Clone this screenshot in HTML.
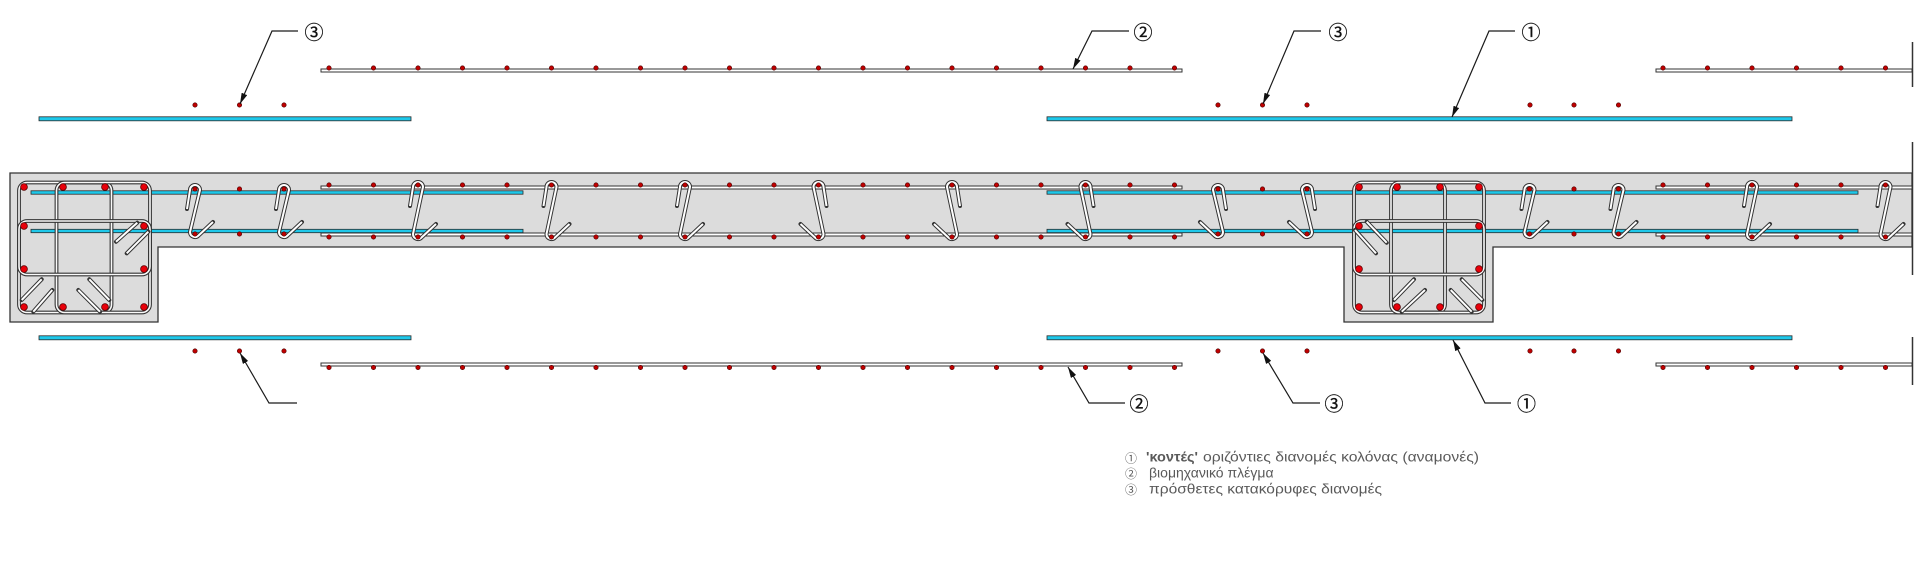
<!DOCTYPE html>
<html><head><meta charset="utf-8">
<style>
html,body{margin:0;padding:0;background:#fff;}
svg{display:block}
.o{fill:none;stroke:#333;stroke-width:4;stroke-linecap:round;stroke-linejoin:round}
.i{fill:none;stroke:#fff;stroke-width:2;stroke-linejoin:round}
.so{fill:none;stroke:#333;stroke-width:3.8}
.si{fill:none;stroke:#fafafa;stroke-width:1.6}
.cy{fill:#1ec8ea;stroke:#2a2a2a;stroke-width:0.8}
.ms{fill:#fff;stroke:#333;stroke-width:1}
.dt circle{fill:#c00000;stroke:#4a0000;stroke-width:0.6}
.cd circle{fill:#e8000a;stroke:#5a0000;stroke-width:0.8}
.ld{fill:none;stroke:#1a1a1a;stroke-width:1.2}
.lb{font-family:"Liberation Sans","Noto Sans CJK JP",sans-serif;font-size:19px;fill:#111;stroke:#111;stroke-width:0.3}
.lg{font-family:"Liberation Sans","Noto Sans CJK JP",sans-serif;font-size:14px;fill:#5a5a5a}
.lgc{font-family:"Liberation Sans","Noto Sans CJK JP",sans-serif;font-size:12px;fill:#5a5a5a}
</style></head>
<body>
<svg width="1920" height="579" viewBox="0 0 1920 579" xmlns="http://www.w3.org/2000/svg">
<defs>
<marker id="ar" markerWidth="12" markerHeight="6" refX="11" refY="3" orient="auto" markerUnits="userSpaceOnUse"><path d="M0,0 L11,3 L0,6 z" fill="#111"/></marker>
<g id="hm"><path class="o" d="M -8,206 L -5,187 A 5 5 0 0 1 5,187 L -5,234 A 5 5 0 0 0 3.54,237.54 L 18,224"/><path class="i" d="M -8,206 L -5,187 A 5 5 0 0 1 5,187 L -5,234 A 5 5 0 0 0 3.54,237.54 L 18,224"/></g>
<g id="hc"><path class="o" d="M -8,209 L -5,190 A 5 5 0 0 1 5,190 L -5,232 A 5 5 0 0 0 3.54,235.54 L 18,222"/><path class="i" d="M -8,209 L -5,190 A 5 5 0 0 1 5,190 L -5,232 A 5 5 0 0 0 3.54,235.54 L 18,222"/></g>
</defs>

<!-- slab -->
<polygon points="10,173 1912,173 1912,247 1493,247 1493,322 1344,322 1344,247 158,247 158,322 10,322" fill="#dcdcdc" stroke="#333" stroke-width="1.3"/>

<!-- outside bars -->
<rect class="ms" x="321" y="69" width="861" height="3"/>
<rect class="ms" x="1656" y="69" width="256" height="3"/>
<rect class="cy" x="39" y="116.8" width="372" height="4"/>
<rect class="cy" x="1047" y="116.8" width="745" height="4"/>
<rect class="cy" x="39" y="335.8" width="372" height="4"/>
<rect class="cy" x="1047" y="335.8" width="745" height="4"/>
<rect class="ms" x="321" y="363" width="861" height="3"/>
<rect class="ms" x="1656" y="363" width="256" height="3"/>

<!-- inside bars -->
<rect class="ms" x="321" y="186" width="861" height="3"/>
<rect class="ms" x="321" y="233" width="861" height="3"/>
<rect class="ms" x="1656" y="186" width="256" height="3"/>
<rect class="ms" x="1656" y="233" width="256" height="3"/>
<rect class="cy" x="31" y="190.8" width="492" height="3.4"/>
<rect class="cy" x="31" y="229.3" width="492" height="3.4"/>
<rect class="cy" x="1047" y="190.8" width="811" height="3.4"/>
<rect class="cy" x="1047" y="229.3" width="811" height="3.4"/>

<!-- column stirrups left -->
<g>
<rect class="so" x="19" y="182.5" width="92.5" height="130" rx="8"/><rect class="si" x="19" y="182.5" width="92.5" height="130" rx="8"/>
<rect class="so" x="56.5" y="182.5" width="93.5" height="130" rx="8"/><rect class="si" x="56.5" y="182.5" width="93.5" height="130" rx="8"/>
<rect class="so" x="19" y="221" width="131" height="53.5" rx="8"/><rect class="si" x="19" y="221" width="131" height="53.5" rx="8"/>
</g>
<!-- column stirrups right -->
<g>
<rect class="so" x="1354" y="182.5" width="91" height="130" rx="8"/><rect class="si" x="1354" y="182.5" width="91" height="130" rx="8"/>
<rect class="so" x="1391" y="182.5" width="93" height="130" rx="8"/><rect class="si" x="1391" y="182.5" width="93" height="130" rx="8"/>
<rect class="so" x="1354" y="221" width="130" height="53.5" rx="8"/><rect class="si" x="1354" y="221" width="130" height="53.5" rx="8"/>
</g>

<!-- column hook legs -->
<g>
<path class="o" d="M116,241.7 L137.3,222.7 M126.7,253.3 L148.3,231.7 M21.7,300 L41.7,279.3 M33.3,311.7 L52.3,290 M78.3,290 L100,311.7 M89.3,279.3 L109.3,300 M1366.7,221.7 L1386.7,242.7 M1355,230 L1376,253.3 M1394,300 L1414,279.3 M1401.7,311.7 L1425,290 M1450.7,290 L1471.7,311.7 M1461.7,279.3 L1482.3,300"/>
<path class="i" d="M116,241.7 L137.3,222.7 M126.7,253.3 L148.3,231.7 M21.7,300 L41.7,279.3 M33.3,311.7 L52.3,290 M78.3,290 L100,311.7 M89.3,279.3 L109.3,300 M1366.7,221.7 L1386.7,242.7 M1355,230 L1376,253.3 M1394,300 L1414,279.3 M1401.7,311.7 L1425,290 M1450.7,290 L1471.7,311.7 M1461.7,279.3 L1482.3,300"/>
</g>

<!-- slab ties -->
<use href="#hc" transform="translate(195,0)"/>
<use href="#hc" transform="translate(284,0)"/>
<use href="#hm" transform="translate(418,0)"/>
<use href="#hm" transform="translate(551.5,0)"/>
<use href="#hm" transform="translate(685,0)"/>
<use href="#hm" transform="translate(818.5,0) scale(-1,1)"/>
<use href="#hm" transform="translate(952,0) scale(-1,1)"/>
<use href="#hm" transform="translate(1085.5,0) scale(-1,1)"/>
<use href="#hc" transform="translate(1218,0) scale(-1,1)"/>
<use href="#hc" transform="translate(1307,0) scale(-1,1)"/>
<use href="#hc" transform="translate(1529.5,0)"/>
<use href="#hc" transform="translate(1618.5,0)"/>
<use href="#hm" transform="translate(1752,0)"/>
<use href="#hm" transform="translate(1885.5,0)"/>

<!-- small dots -->
<g class="dt">
<circle cx="329" cy="68" r="2.2"/><circle cx="373.5" cy="68" r="2.2"/><circle cx="418" cy="68" r="2.2"/><circle cx="462.5" cy="68" r="2.2"/><circle cx="507" cy="68" r="2.2"/><circle cx="551.5" cy="68" r="2.2"/><circle cx="596" cy="68" r="2.2"/><circle cx="640.5" cy="68" r="2.2"/><circle cx="685" cy="68" r="2.2"/><circle cx="729.5" cy="68" r="2.2"/><circle cx="774" cy="68" r="2.2"/><circle cx="818.5" cy="68" r="2.2"/><circle cx="863" cy="68" r="2.2"/><circle cx="907.5" cy="68" r="2.2"/><circle cx="952" cy="68" r="2.2"/><circle cx="996.5" cy="68" r="2.2"/><circle cx="1041" cy="68" r="2.2"/><circle cx="1085.5" cy="68" r="2.2"/><circle cx="1130" cy="68" r="2.2"/><circle cx="1174.5" cy="68" r="2.2"/>
<circle cx="1663" cy="68" r="2.2"/><circle cx="1707.5" cy="68" r="2.2"/><circle cx="1752" cy="68" r="2.2"/><circle cx="1796.5" cy="68" r="2.2"/><circle cx="1841" cy="68" r="2.2"/><circle cx="1885.5" cy="68" r="2.2"/>
<circle cx="329" cy="367.5" r="2.2"/><circle cx="373.5" cy="367.5" r="2.2"/><circle cx="418" cy="367.5" r="2.2"/><circle cx="462.5" cy="367.5" r="2.2"/><circle cx="507" cy="367.5" r="2.2"/><circle cx="551.5" cy="367.5" r="2.2"/><circle cx="596" cy="367.5" r="2.2"/><circle cx="640.5" cy="367.5" r="2.2"/><circle cx="685" cy="367.5" r="2.2"/><circle cx="729.5" cy="367.5" r="2.2"/><circle cx="774" cy="367.5" r="2.2"/><circle cx="818.5" cy="367.5" r="2.2"/><circle cx="863" cy="367.5" r="2.2"/><circle cx="907.5" cy="367.5" r="2.2"/><circle cx="952" cy="367.5" r="2.2"/><circle cx="996.5" cy="367.5" r="2.2"/><circle cx="1041" cy="367.5" r="2.2"/><circle cx="1085.5" cy="367.5" r="2.2"/><circle cx="1130" cy="367.5" r="2.2"/><circle cx="1174.5" cy="367.5" r="2.2"/>
<circle cx="1663" cy="367.5" r="2.2"/><circle cx="1707.5" cy="367.5" r="2.2"/><circle cx="1752" cy="367.5" r="2.2"/><circle cx="1796.5" cy="367.5" r="2.2"/><circle cx="1841" cy="367.5" r="2.2"/><circle cx="1885.5" cy="367.5" r="2.2"/>
<circle cx="195" cy="105" r="2.2"/><circle cx="239.5" cy="105" r="2.2"/><circle cx="284" cy="105" r="2.2"/><circle cx="1218" cy="105" r="2.2"/><circle cx="1262.5" cy="105" r="2.2"/><circle cx="1307" cy="105" r="2.2"/><circle cx="1530" cy="105" r="2.2"/><circle cx="1574" cy="105" r="2.2"/><circle cx="1618.5" cy="105" r="2.2"/>
<circle cx="195" cy="351" r="2.2"/><circle cx="239.5" cy="351" r="2.2"/><circle cx="284" cy="351" r="2.2"/><circle cx="1218" cy="351" r="2.2"/><circle cx="1262.5" cy="351" r="2.2"/><circle cx="1307" cy="351" r="2.2"/><circle cx="1530" cy="351" r="2.2"/><circle cx="1574" cy="351" r="2.2"/><circle cx="1618.5" cy="351" r="2.2"/>
<circle cx="329" cy="185" r="2.2"/><circle cx="373.5" cy="185" r="2.2"/><circle cx="418" cy="185" r="2.2"/><circle cx="462.5" cy="185" r="2.2"/><circle cx="507" cy="185" r="2.2"/><circle cx="551.5" cy="185" r="2.2"/><circle cx="596" cy="185" r="2.2"/><circle cx="640.5" cy="185" r="2.2"/><circle cx="685" cy="185" r="2.2"/><circle cx="729.5" cy="185" r="2.2"/><circle cx="774" cy="185" r="2.2"/><circle cx="818.5" cy="185" r="2.2"/><circle cx="863" cy="185" r="2.2"/><circle cx="907.5" cy="185" r="2.2"/><circle cx="952" cy="185" r="2.2"/><circle cx="996.5" cy="185" r="2.2"/><circle cx="1041" cy="185" r="2.2"/><circle cx="1085.5" cy="185" r="2.2"/><circle cx="1130" cy="185" r="2.2"/><circle cx="1174.5" cy="185" r="2.2"/>
<circle cx="1663" cy="185" r="2.2"/><circle cx="1707.5" cy="185" r="2.2"/><circle cx="1752" cy="185" r="2.2"/><circle cx="1796.5" cy="185" r="2.2"/><circle cx="1841" cy="185" r="2.2"/><circle cx="1885.5" cy="185" r="2.2"/>
<circle cx="329" cy="237" r="2.2"/><circle cx="373.5" cy="237" r="2.2"/><circle cx="418" cy="237" r="2.2"/><circle cx="462.5" cy="237" r="2.2"/><circle cx="507" cy="237" r="2.2"/><circle cx="551.5" cy="237" r="2.2"/><circle cx="596" cy="237" r="2.2"/><circle cx="640.5" cy="237" r="2.2"/><circle cx="685" cy="237" r="2.2"/><circle cx="729.5" cy="237" r="2.2"/><circle cx="774" cy="237" r="2.2"/><circle cx="818.5" cy="237" r="2.2"/><circle cx="863" cy="237" r="2.2"/><circle cx="907.5" cy="237" r="2.2"/><circle cx="952" cy="237" r="2.2"/><circle cx="996.5" cy="237" r="2.2"/><circle cx="1041" cy="237" r="2.2"/><circle cx="1085.5" cy="237" r="2.2"/><circle cx="1130" cy="237" r="2.2"/><circle cx="1174.5" cy="237" r="2.2"/>
<circle cx="1663" cy="237" r="2.2"/><circle cx="1707.5" cy="237" r="2.2"/><circle cx="1752" cy="237" r="2.2"/><circle cx="1796.5" cy="237" r="2.2"/><circle cx="1841" cy="237" r="2.2"/><circle cx="1885.5" cy="237" r="2.2"/>
<circle cx="195" cy="189" r="2.2"/><circle cx="239.5" cy="189" r="2.2"/><circle cx="284" cy="189" r="2.2"/><circle cx="1218" cy="189" r="2.2"/><circle cx="1262.5" cy="189" r="2.2"/><circle cx="1307" cy="189" r="2.2"/><circle cx="1529.5" cy="189" r="2.2"/><circle cx="1574" cy="189" r="2.2"/><circle cx="1618.5" cy="189" r="2.2"/>
<circle cx="195" cy="234" r="2.2"/><circle cx="239.5" cy="234" r="2.2"/><circle cx="284" cy="234" r="2.2"/><circle cx="1218" cy="234" r="2.2"/><circle cx="1262.5" cy="234" r="2.2"/><circle cx="1307" cy="234" r="2.2"/><circle cx="1529.5" cy="234" r="2.2"/><circle cx="1574" cy="234" r="2.2"/><circle cx="1618.5" cy="234" r="2.2"/>
</g>

<!-- column dots -->
<g class="cd">
<circle cx="24" cy="187" r="3.4"/><circle cx="63" cy="187" r="3.4"/><circle cx="105" cy="187" r="3.4"/><circle cx="144" cy="187" r="3.4"/>
<circle cx="24" cy="226" r="3.4"/><circle cx="144" cy="226" r="3.4"/><circle cx="24" cy="269" r="3.4"/><circle cx="144" cy="269" r="3.4"/>
<circle cx="24" cy="307" r="3.4"/><circle cx="63" cy="307" r="3.4"/><circle cx="105" cy="307" r="3.4"/><circle cx="144" cy="307" r="3.4"/>
<circle cx="1359" cy="187" r="3.4"/><circle cx="1397" cy="187" r="3.4"/><circle cx="1440" cy="187" r="3.4"/><circle cx="1479" cy="187" r="3.4"/>
<circle cx="1359" cy="226" r="3.4"/><circle cx="1479" cy="226" r="3.4"/><circle cx="1359" cy="269" r="3.4"/><circle cx="1479" cy="269" r="3.4"/>
<circle cx="1359" cy="307" r="3.4"/><circle cx="1397" cy="307" r="3.4"/><circle cx="1440" cy="307" r="3.4"/><circle cx="1479" cy="307" r="3.4"/>
</g>

<!-- right edge lines -->
<path d="M1912.5,42 L1912.5,87 M1912.5,142 L1912.5,275 M1912.5,337 L1912.5,385" stroke="#333" stroke-width="1.5" fill="none"/>

<!-- leaders -->
<path class="ld" d="M298,31 L272,31 L240,104" marker-end="url(#ar)"/>
<path class="ld" d="M1129,31 L1092,31 L1073,69" marker-end="url(#ar)"/>
<path class="ld" d="M1321,31 L1294,31 L1263,104" marker-end="url(#ar)"/>
<path class="ld" d="M1515,31 L1489,31 L1452,117" marker-end="url(#ar)"/>
<path class="ld" d="M297,403 L269,403 L240,353" marker-end="url(#ar)"/>
<path class="ld" d="M1125,403 L1089,403 L1068,367" marker-end="url(#ar)"/>
<path class="ld" d="M1320,403 L1293,403 L1263,353" marker-end="url(#ar)"/>
<path class="ld" d="M1511,403 L1485,403 L1453,340" marker-end="url(#ar)"/>

<text class="lb" x="304.5" y="39">③</text>
<text class="lb" x="1133.5" y="39">②</text>
<text class="lb" x="1328.5" y="39">③</text>
<text class="lb" x="1521.5" y="39">①</text>
<text class="lb" x="1129.5" y="410.5">②</text>
<text class="lb" x="1324.5" y="410.5">③</text>
<text class="lb" x="1517" y="410.5">①</text>

<!-- legend -->
<text class="lgc" x="1125" y="462.3">①</text>
<text class="lg" x="1146" y="461.7" font-weight="bold" textLength="52" lengthAdjust="spacingAndGlyphs">'κοντές'</text>
<text class="lg" x="1203" y="461.7" textLength="276" lengthAdjust="spacingAndGlyphs">οριζόντιες διανομές κολόνας (αναμονές)</text>
<text class="lgc" x="1125" y="477.9">②</text>
<text class="lg" x="1149" y="477.5">βιομηχανικό πλέγμα</text>
<text class="lgc" x="1125" y="493.9">③</text>
<text class="lg" x="1149" y="493.5" textLength="233" lengthAdjust="spacingAndGlyphs">πρόσθετες κατακόρυφες διανομές</text>
</svg>
</body></html>
